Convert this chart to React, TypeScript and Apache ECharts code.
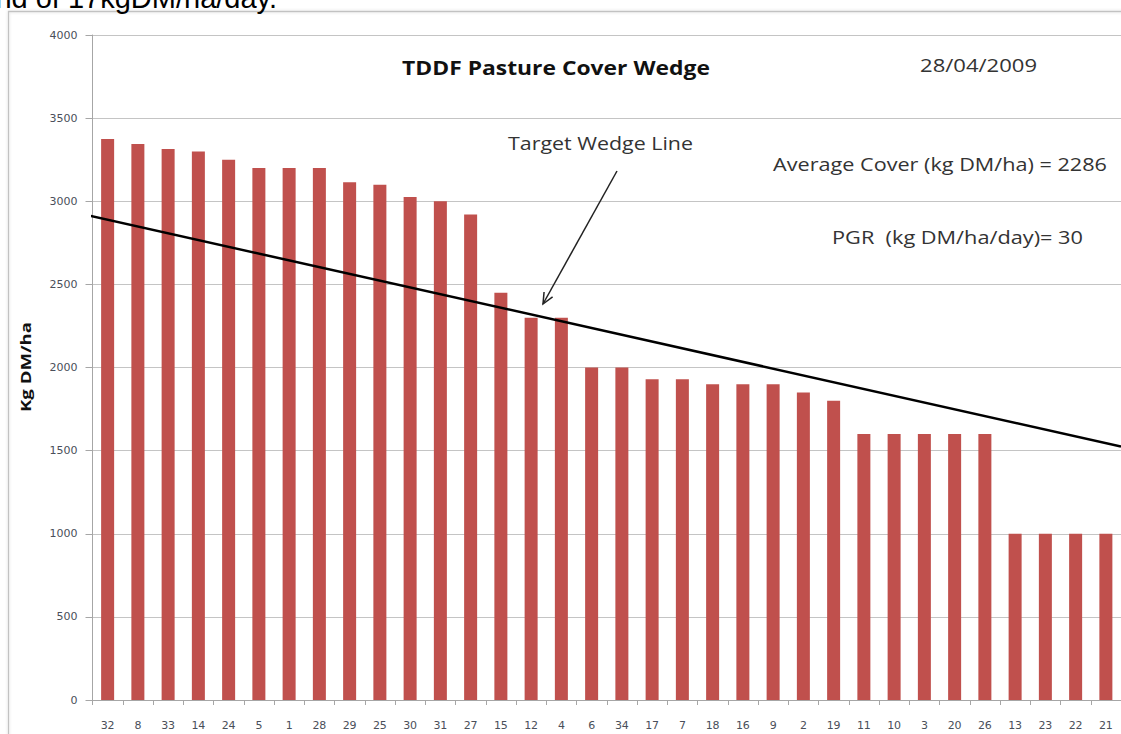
import { useEffect, useRef } from "react";
import * as echarts from "echarts";

// ---- data ----
const paddocks = ["32","8","33","14","24","5","1","28","29","25","30","31","27","15","12","4","6","34","17","7","18","16","9","2","19","11","10","3","20","26","13","23","22","21"];
const cover = [3375,3345,3315,3300,3250,3200,3200,3200,3115,3100,3025,3000,2920,2450,2300,2300,2000,2000,1930,1930,1900,1900,1900,1850,1800,1600,1600,1600,1600,1600,1000,1000,1000,1000];
const wedgeX = [-0.15, 34];
const wedgeY = [2915, 1525];
const yMin = 0;
const yMax = 4000;
const yStep = 500;

const titleText = "TDDF Pasture Cover Wedge";
const dateText = "28/04/2009";
const avgText = "Average Cover (kg DM/ha) = 2286";
const pgrText = "PGR  (kg DM/ha/day)= 30";
const wedgeLabel = "Target Wedge Line";
const yName = "Kg DM/ha";
const topText = "nd of 17kgDM/ha/day.";

function fit(text: string, font: string, target: number): number {
  const c = document.createElement("canvas");
  const ctx = c.getContext("2d");
  if (!ctx) return 1;
  ctx.font = font;
  const w = ctx.measureText(text).width;
  return w > 0 ? target / w : 1;
}

export default function App() {
  const ref = useRef<HTMLDivElement>(null);
  useEffect(() => {
    if (!ref.current) return;
    const chart = echarts.init(ref.current, undefined, { renderer: "svg" });
    const OS = "'Open Sans'";
    const mkText = (text: string, x: number, y: number, size: number, weight: string, color: string, width: number, align = "center", rotation = 0) => ({
      type: "text",
      x,
      y,
      rotation,
      scaleX: fit(text, `${weight} ${size}px 'Open Sans'`, width),
      silent: true,
      style: {
        text,
        fontFamily: OS,
        fontSize: size,
        fontWeight: weight,
        fill: color,
        align,
        verticalAlign: "middle",
      },
    });
    // arrow geometry (annotation)
    const tail = [617, 171];
    const tip = [543, 304];
    const dx = tail[0] - tip[0];
    const dy = tail[1] - tip[1];
    const len = Math.hypot(dx, dy);
    const ux = dx / len, uy = dy / len;
    const ah = 12, ang = (24 * Math.PI) / 180;
    const rot = (a: number) => [tip[0] + ah * (ux * Math.cos(a) - uy * Math.sin(a)), tip[1] + ah * (ux * Math.sin(a) + uy * Math.cos(a))];

    chart.setOption({
      animation: false,
      backgroundColor: "#ffffff",
      grid: { left: 92.5, top: 35, width: 1034, height: 665, containLabel: false },
      xAxis: [
        {
          type: "category",
          data: paddocks,
          axisLine: { show: true, lineStyle: { color: "#a6a6a6", width: 1 } },
          axisTick: { show: true, alignWithLabel: false, length: 5, lineStyle: { color: "#a6a6a6" } },
          axisLabel: { interval: 0, fontFamily: "'DejaVu Sans'", fontSize: 11, color: "#4a4f5a", margin: 20 },
          splitLine: { show: false },
        },
        { type: "value", min: 0, max: 34, show: false },
      ],
      yAxis: {
        type: "value",
        min: yMin,
        max: yMax,
        interval: yStep,
        axisLine: { show: true, lineStyle: { color: "#a6a6a6", width: 1 } },
        axisTick: { show: true, length: 7, lineStyle: { color: "#a6a6a6" } },
        axisLabel: {
          fontFamily: "'DejaVu Sans'",
          fontSize: 11,
          color: "#4a4f5a",
          margin: 15,
          formatter: (v: number) => String(v),
        },
        splitLine: { show: true, lineStyle: { color: "#c4c4c4", width: 1 } },
      },
      series: [
        {
          type: "bar",
          data: cover,
          barWidth: "43%",
          itemStyle: { color: "#C0504D" },
          z: 2,
        },
        {
          type: "line",
          xAxisIndex: 1,
          data: wedgeX.map((x, i) => [x, wedgeY[i]]),
          symbol: "none",
          clip: false,
          lineStyle: { color: "#000000", width: 2.5 },
          z: 5,
        },
      ],
      graphic: [
        {
          type: "rect",
          silent: true,
          z: -10,
          shape: { x: 8.5, y: 11.5, width: 1200, height: 800 },
          style: { fill: "none", stroke: "#c2c2c2", lineWidth: 1.3, shadowBlur: 3, shadowColor: "rgba(0,0,0,0.15)" },
        },
        {
          type: "text",
          x: 277,
          y: -2.5,
          silent: true,
          style: { text: topText, fontFamily: "'Liberation Sans'", fontSize: 29, fill: "#000", align: "right", verticalAlign: "middle" },
        },
        mkText(titleText, 556, 67, 20, "bold", "#111111", 308),
        mkText(dateText, 978.5, 64.5, 18, "normal", "#333333", 117),
        mkText(avgText, 940, 164.5, 18, "normal", "#333333", 334),
        mkText(pgrText, 957.5, 237, 18, "normal", "#333333", 251),
        mkText(wedgeLabel, 600.5, 143, 18, "normal", "#333333", 185),
        mkText(yName, 25, 367, 15, "bold", "#111111", 90, "center", Math.PI / 2),
        {
          type: "line",
          silent: true,
          z: 10,
          shape: { x1: tail[0], y1: tail[1], x2: tip[0], y2: tip[1] },
          style: { stroke: "#222", lineWidth: 1.5 },
        },
        {
          type: "polyline",
          silent: true,
          z: 10,
          shape: { points: [rot(ang), tip, rot(-ang)] },
          style: { stroke: "#222", lineWidth: 1.5, fill: "none" },
        },
      ],
    });
    return () => chart.dispose();
  }, []);
  return <div ref={ref} style={{ position: "fixed", left: 0, top: 0, width: 1121, height: 734, background: "#fff" }} />;
}
